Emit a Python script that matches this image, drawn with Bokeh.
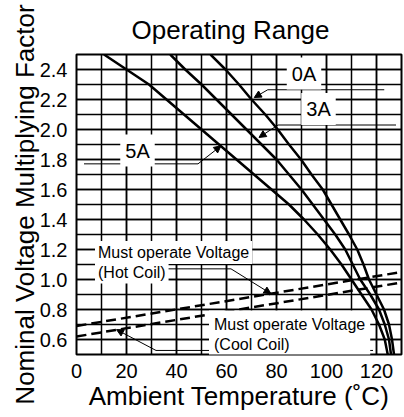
from bokeh.plotting import figure
from bokeh.models import Range1d, FixedTicker, Label, Arrow, NormalHead
from bokeh.embed import file_html
from bokeh.resources import INLINE

# ---- data ----
v_levels = [2.5, 2.4, 2.3, 2.2, 2.1, 2.0, 1.9, 1.8, 1.7, 1.6, 1.5, 1.4, 1.3,
            1.2, 1.1, 1.0, 0.9, 0.8, 0.7, 0.6, 0.5]
t_5a = [11, 20, 29, 36, 43, 50, 57, 64, 71, 78, 85, 91, 96.5,
        101.5, 106, 110, 114, 118, 121, 123.3, 124.5]
t_3a = [37.5, 43.5, 50, 56, 62, 68, 74, 80, 85, 90, 94.5, 99, 103.5,
        107.5, 110.5, 113.5, 117.5, 121, 123.3, 125, 125.8]
t_0a = [53.6, 59.6, 65, 70, 75.5, 80.5, 85, 89.8, 94, 98.5, 102, 105.5, 109,
        112.3, 114.8, 117, 120, 123, 125, 126.2, 127]

coil_temp = [0, 130]
hot_coil = [0.69, 1.05]
cool_coil = [0.62, 0.98]

x_ticks = [0, 20, 40, 60, 80, 100, 120]
x_minor = [0, 10, 20, 30, 40, 50, 60, 70, 80, 90, 100, 110, 120, 130]
y_ticks = [0.6, 0.8, 1.0, 1.2, 1.4, 1.6, 1.8, 2.0, 2.2, 2.4]
y_tick_labels = ["0.6", "0.8", "1.0", "1.2", "1.4", "1.6", "1.8", "2.0", "2.2", "2.4"]
y_minor = [0.5, 0.6, 0.7, 0.8, 0.9, 1.0, 1.1, 1.2, 1.3, 1.4, 1.5, 1.6, 1.7,
           1.8, 1.9, 2.0, 2.1, 2.2, 2.3, 2.4, 2.5]

FONT = "Liberation Sans"

p = figure(width=404, height=417, output_backend="svg", toolbar_location=None,
           x_range=Range1d(0, 130), y_range=Range1d(0.5, 2.5),
           min_border_left=76, min_border_right=3, min_border_top=54,
           min_border_bottom=63, title="Operating Range")

p.title.text_font = FONT
p.title.text_font_size = "26px"
p.title.text_font_style = "normal"
p.title.text_color = "black"
p.title.align = "left"
p.title.offset = 55
p.title.standoff = 20

p.background_fill_color = "white"
p.border_fill_color = "white"
p.outline_line_color = "black"
p.outline_line_width = 2

p.xaxis.ticker = FixedTicker(ticks=x_ticks, minor_ticks=x_minor)
p.yaxis.ticker = FixedTicker(ticks=y_ticks, minor_ticks=y_minor)
p.yaxis.major_label_overrides = {t: s for t, s in zip(y_ticks, y_tick_labels)}

for ax in (p.xaxis, p.yaxis):
    ax.axis_line_color = None
    ax.major_tick_line_color = None
    ax.minor_tick_line_color = None
    ax.major_label_text_font = FONT
    ax.major_label_text_font_size = "20px"
    ax.major_label_text_color = "black"
    ax.axis_label_text_font = FONT
    ax.axis_label_text_font_size = "26px"
    ax.axis_label_text_font_style = "normal"
    ax.axis_label_text_color = "black"

p.xaxis.axis_label = "Ambient Temperature (˚C)"
p.yaxis.axis_label = "Nominal Voltage Multiplying Factor"
p.xaxis.major_label_standoff = 3
p.yaxis.major_label_standoff = 3
p.xaxis.axis_label_standoff = 0
p.yaxis.axis_label_standoff = -3

for g in (p.xgrid, p.ygrid):
    g.grid_line_color = "black"
    g.grid_line_width = 1.5
    g.minor_grid_line_color = "black"
    g.minor_grid_line_width = 1.5

# curves
for t in (t_5a, t_3a, t_0a):
    p.line(t, v_levels, line_color="black", line_width=2.5, line_join="round")

p.line(coil_temp, hot_coil, line_color="black", line_width=2.5, line_dash="10 5")
p.line(coil_temp, cool_coil, line_color="black", line_width=2.5, line_dash="10 5")

# leader lines (annotation geometry)
def leader(hx0, hx1, hy, tx, ty):
    p.line([hx0, hx1], [hy, hy], line_color="black", line_width=1)
    p.add_layout(Arrow(x_start=hx0, y_start=hy, x_end=tx, y_end=ty,
                       line_color="black", line_width=1,
                       end=NormalHead(size=7, fill_color="black", line_color="black")))

leader(76.5, 123.1, 2.265, 71.1, 2.213)      # 0A
leader(80.6, 127.8, 2.03, 73.0, 1.947)       # 3A
leader(48.6, 3.0, 1.771, 57.8, 1.891)        # 5A
leader(61.8, 35.8, 1.071, 77.8, 0.905)       # hot coil
leader(31.8, 118.6, 0.527, 16.0, 0.666)      # cool coil

def label(x, y, text, size="20px", align="center", pad=5):
    p.add_layout(Label(x=x, y=y, text=text, text_font=FONT, text_font_size=size,
                       text_align=align, text_baseline="middle", text_color="black",
                       background_fill_color="white", background_fill_alpha=1.0,
                       padding=pad))

label(91, 2.373, "0A")
label(96.8, 2.137, "3A")
label(24.4, 1.86, "5A")
label(7.4, 1.05, "(Hot Coil)", size="16px", align="left", pad=3)
label(7.4, 1.18, "Must operate Voltage", size="16px", align="left", pad=3)
label(53, 0.635, "Must operate Voltage\n(Cool Coil)", size="16px", align="left")

open("out.html", "w").write(file_html(p, INLINE))
